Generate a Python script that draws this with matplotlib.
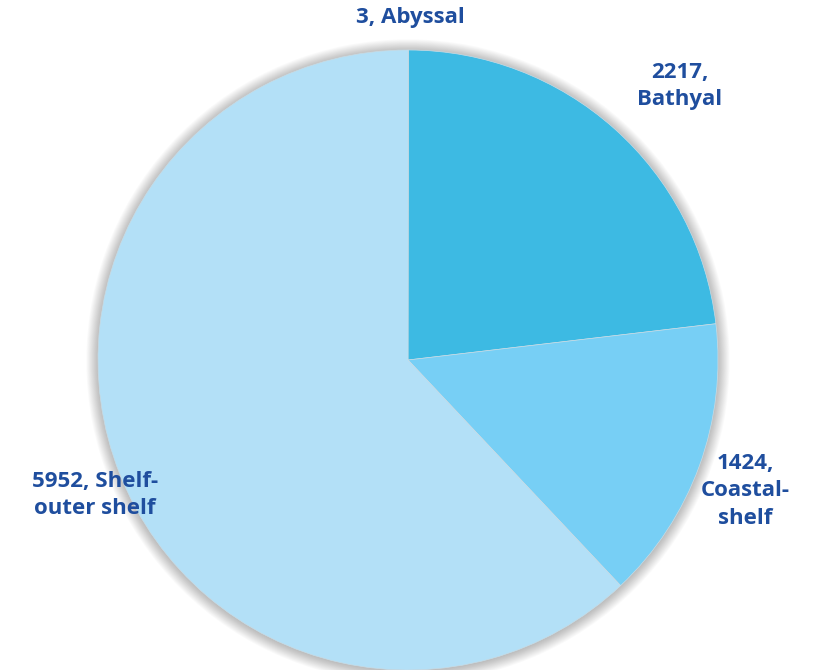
import matplotlib
matplotlib.use("Agg")
import matplotlib.pyplot as plt
from matplotlib.patches import Circle

categories = ["Abyssal", "Bathyal", "Coastal-shelf", "Shelf-outer shelf"]
values = [3, 2217, 1424, 5952]
label_texts = ["3, Abyssal", "2217,\nBathyal", "1424,\nCoastal-\nshelf", "5952, Shelf-\nouter shelf"]
colors = ["#2E86C1", "#3DBAE3", "#77CFF5", "#B3E0F7"]

W, H = 813, 670
fig = plt.figure(figsize=(W / 100, H / 100), dpi=100)
ax = fig.add_axes([0, 0, 1, 1])

cx, cy, r = 408, H - 360, 310

# soft shadow
for i in range(14):
    ax.add_patch(Circle((cx, cy - 1), r + i * 0.9, color="black",
                        alpha=0.018, lw=0, zorder=0))

ax.pie(values, colors=colors, startangle=90, counterclock=False,
       center=(cx, cy), radius=r, frame=True,
       wedgeprops=dict(linewidth=0.5, edgecolor="#C8DCE6"))
ax.set_xlim(0, W)
ax.set_ylim(0, H)
ax.set_aspect("equal")
ax.axis("off")

label_pos = [(410, H - 18), (680, H - 86), (745, H - 491), (95, H - 495)]
for txt, (x, y) in zip(label_texts, label_pos):
    ax.text(x, y, txt, ha="center", va="center", fontsize=16,
            fontweight="bold", family="Open Sans", color="#1F4E9E",
            linespacing=1.42)

fig.savefig("out.png", dpi=100)
